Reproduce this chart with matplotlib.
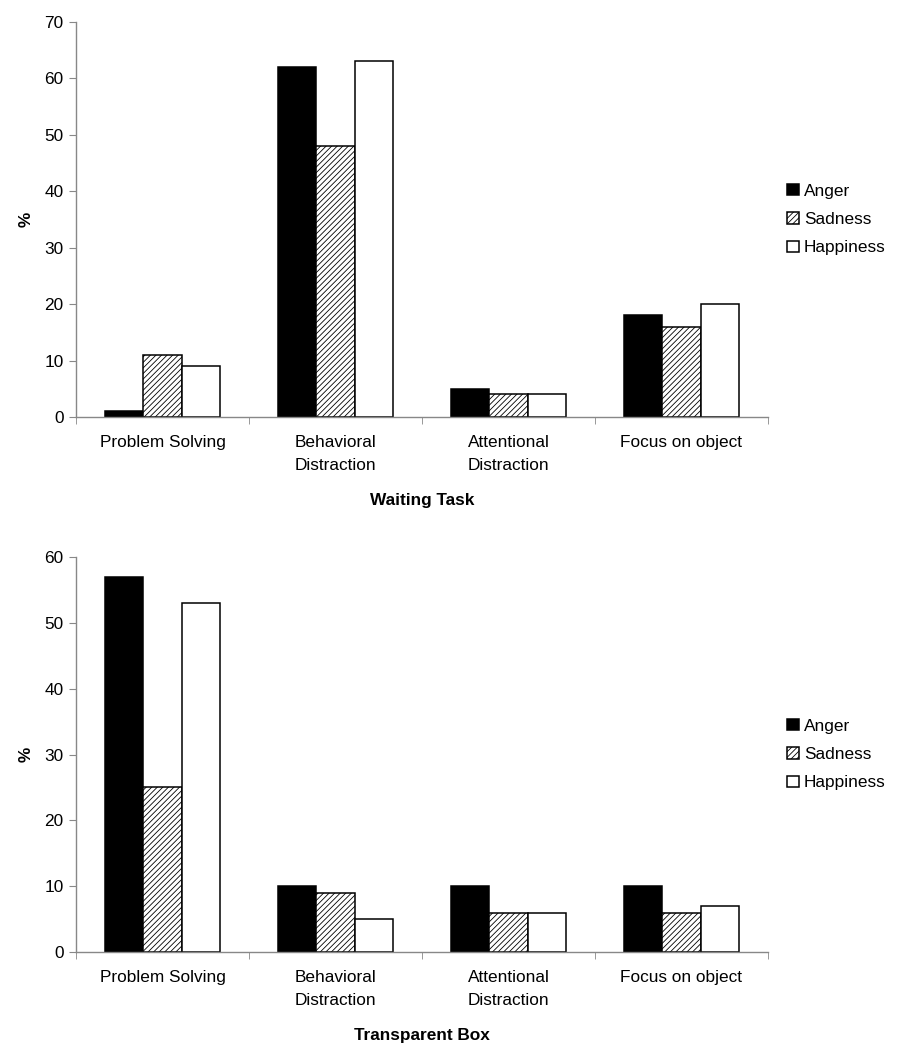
import matplotlib
matplotlib.use("Agg")
import matplotlib.pyplot as plt
import numpy as np

plt.rcParams['font.family'] = ['Liberation Sans', 'DejaVu Sans']
plt.rcParams['hatch.linewidth'] = 0.6

categories = ["Problem Solving", "Behavioral\nDistraction", "Attentional\nDistraction", "Focus on object"]
series = ["Anger", "Sadness", "Happiness"]
waiting_anger = [1, 62, 5, 18]
waiting_sadness = [11, 48, 4, 16]
waiting_happiness = [9, 63, 4, 20]
box_anger = [57, 10, 10, 10]
box_sadness = [25, 9, 6, 6]
box_happiness = [53, 5, 6, 7]

FS = 12.4

fig = plt.figure(figsize=(9.08, 10.5), dpi=100)
ax1 = fig.add_axes([0.0837, 0.6029, 0.7621, 0.3762])
ax2 = fig.add_axes([0.0837, 0.0933, 0.7621, 0.3762])

styles = [dict(facecolor='black', edgecolor='black', hatch=None),
          dict(facecolor='white', edgecolor='black', hatch='//////'),
          dict(facecolor='white', edgecolor='black', hatch=None)]

def draw(ax, data, ymax, xlabel):
    x = np.arange(len(categories))
    w = 0.223
    for i, (vals, st) in enumerate(zip(data, styles)):
        ax.bar(x + (i - 1) * w, vals, width=w, linewidth=1.1, label=series[i], **st)
    ax.set_xlim(-0.5, len(categories) - 0.5)
    ax.set_ylim(0, ymax)
    ax.set_yticks(np.arange(0, ymax + 1, 10))
    ax.set_xticks(x)
    ax.set_xticklabels(categories, fontsize=FS, linespacing=1.7)
    ax.set_xticks(np.arange(-0.5, len(categories), 1), minor=True)
    ax.tick_params(axis='x', which='major', length=0, pad=13)
    ax.tick_params(axis='x', which='minor', length=5, color='#888888', direction='out')
    ax.tick_params(axis='y', length=5, color='#888888', labelsize=FS, direction='out', pad=4)
    for s in ['top', 'right']:
        ax.spines[s].set_visible(False)
    for s in ['left', 'bottom']:
        ax.spines[s].set_color('#888888')
        ax.spines[s].set_linewidth(1.0)
    ax.set_ylabel('%', fontsize=FS, fontweight='bold', labelpad=8)
    ax.set_xlabel(xlabel, fontsize=FS, fontweight='bold', labelpad=14)
    ax.legend(loc='center left', bbox_to_anchor=(1.018, 0.5), frameon=False, fontsize=FS,
              handlelength=0.65, handleheight=0.65, handletextpad=0.3, labelspacing=0.78,
              borderaxespad=0.0)

draw(ax1, [waiting_anger, waiting_sadness, waiting_happiness], 70, "Waiting Task")
draw(ax2, [box_anger, box_sadness, box_happiness], 60, "Transparent Box")

fig.savefig("out.png", dpi=100)
